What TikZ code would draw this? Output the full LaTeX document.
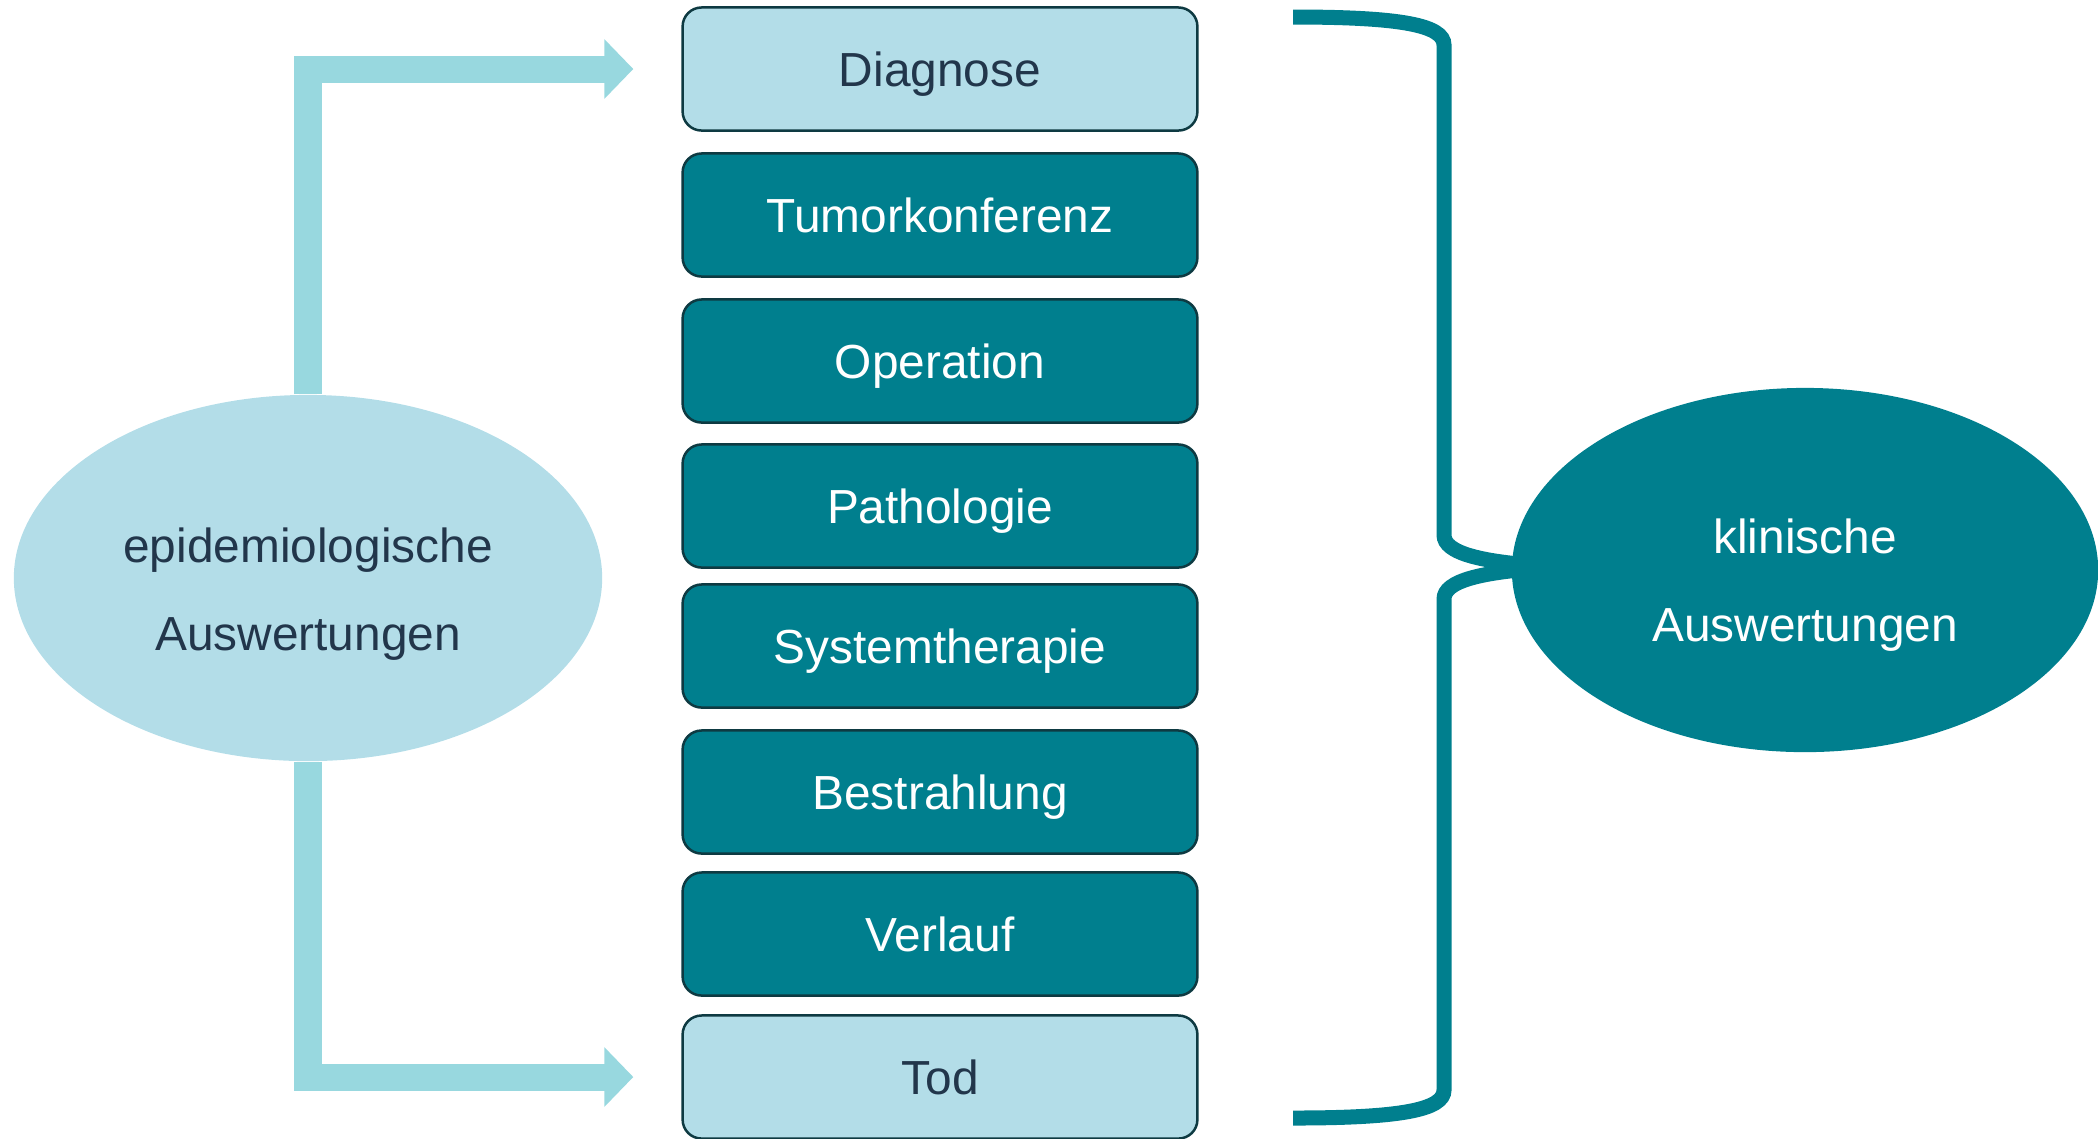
\documentclass[tikz,border=0pt]{standalone}
\usepackage{fontspec}
\setmainfont{Liberation Sans}
\usepackage{tikz}
\usepackage{xcolor}
\usetikzlibrary{
    arrows.meta,
    shapes.geometric,
    calc,
    positioning
}
\definecolor{lightfill}{HTML}{B3DDE8}
\definecolor{tealfill}{HTML}{007F8E}
\definecolor{arrowfill}{HTML}{98D8DF}
\definecolor{boxline}{HTML}{0E3A42}
\definecolor{navytext}{HTML}{22364B}
\tikzset{
    stagebox/.style={draw=boxline, line width=0.025cm, rounded corners=0.19cm,
        minimum width=5.145cm, minimum height=1.23cm, inner sep=0pt,
        text height=9.7pt, text depth=0pt,
        font=\fontsize{13.6pt}{25pt}\selectfont},
    lightbox/.style={stagebox, fill=lightfill, text=navytext},
    darkbox/.style={stagebox, fill=tealfill, text=white},
    evalell/.style={ellipse, minimum width=5.88cm, minimum height=3.66cm, inner sep=0pt},
    evaltext/.style={align=center, font=\fontsize{13.6pt}{25pt}\selectfont},
    epiarrow/.style={draw=arrowfill, line width=0.27cm, shorten >=0.48cm,
        -{Triangle[length=0.29cm, width=0.58cm]}},
    klinbrace/.style={draw=tealfill, line width=0.15cm}
}
\begin{document}
\begin{tikzpicture}[x=0.01cm, y=-0.01cm]
                        \useasboundingbox (0,0) rectangle (2098,1138);

                        % Stationen
                        \node[lightbox] (nd) at (940, 69) {Diagnose};
                        \node[darkbox] (nt) at (940, 215) {Tumorkonferenz};
                        \node[darkbox] (no) at (940, 361) {Operation};
                        \node[darkbox] (np) at (940, 506) {Pathologie};
                        \node[darkbox] (ns) at (940, 646) {Systemtherapie};
                        \node[darkbox] (nb) at (940, 792) {Bestrahlung};
                        \node[darkbox] (nv) at (940, 934) {Verlauf};
                        \node[lightbox] (ntod) at (940, 1077) {Tod};

                        % epidemiologisch
                        \node[evalell, fill=lightfill] (ne) at (308, 578) {};
                        \node[evaltext, text=navytext] (net) at (308, 594) {epidemiologische\\Auswertungen};

                        \draw[epiarrow] (ne.north) |- (nd.west);
                        \draw[epiarrow] (ne.south) |- (ntod.west);

                        % klinisch
                        \coordinate (btop) at (1293, 17);
                        \coordinate (btip) at (1560, 567);
                        \coordinate (bbot) at (1293, 1118);
                        \draw[klinbrace]
                        (btop) .. controls (1400, 17) and (1444, 25) .. (1444, 45)
                        -- (1444, 535) .. controls (1444, 553) and (1480, 563) .. (btip);
                        \draw[klinbrace]
                        (btip) .. controls (1480, 571) and (1444, 581) .. (1444, 599)
                        -- (1444, 1090) .. controls (1444, 1110) and (1400, 1118) .. (bbot);

                        \node[evalell, fill=tealfill, minimum width=5.86cm, minimum height=3.64cm] (nk) at (1805, 570) {};
                        \node[evaltext, text=white] (nkt) at (1805, 585) {klinische\\Auswertungen};
                    \end{tikzpicture}
\end{document}
